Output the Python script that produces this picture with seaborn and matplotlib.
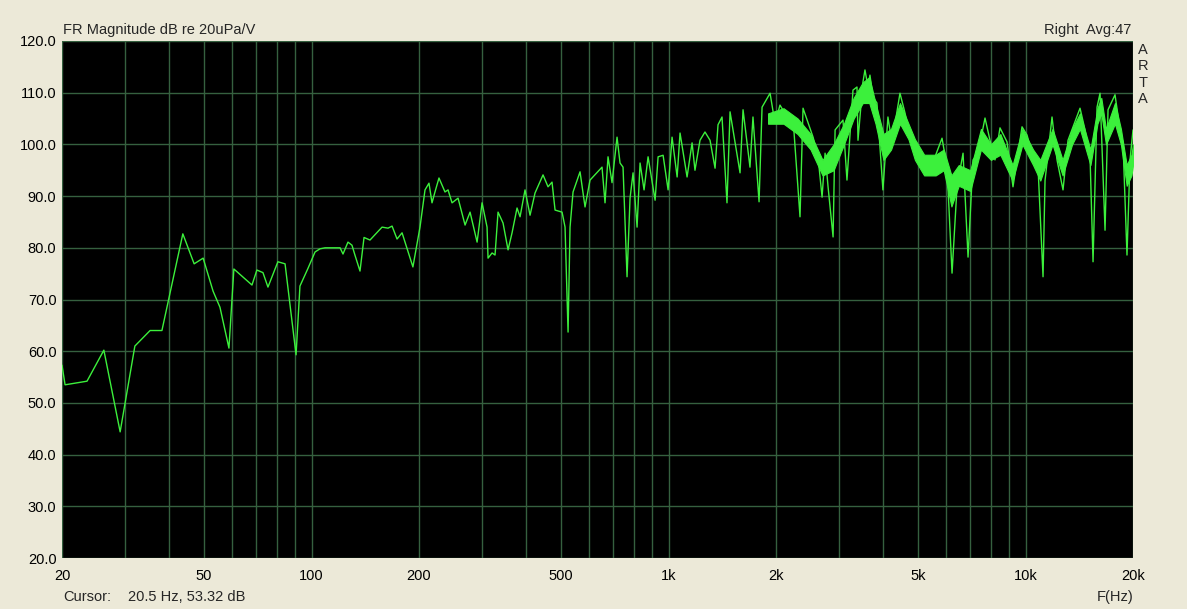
import numpy as np
import pandas as pd
import matplotlib
matplotlib.use("Agg")
import matplotlib.pyplot as plt
import seaborn as sns

# Frequency response (Hz, dB)
freq = [20.0, 20.4, 23.5, 26.2, 29.1, 32.0, 35.3, 38.1, 43.6, 46.9, 49.7, 53.0, 55.4,
        58.7, 60.6, 65.1, 68.1, 70.3, 73.1, 75.5, 80.5, 84.3, 90.5, 92.8, 97.7,
        102.3, 105.6, 109.1, 120.2, 122.5, 126.5, 129.8, 132.3, 136.7, 140.3, 145.8,
        157.6, 163.8, 168.1, 173.6, 179.3, 192.3, 201.3, 207.9, 213.3, 217.5, 221.7,
        227.5, 236.5, 241.2, 247.5, 257.3, 269.2, 278.0, 290.9, 300.4, 310.2, 312.2,
        320.4, 326.6, 333.0, 343.9, 355.2, 364.5, 376.4, 383.8, 396.3, 409.3, 422.7,
        445.1, 459.7, 471.7, 481.0, 503.2, 513.0, 523.1, 529.8, 540.2, 565.1, 583.6,
        602.7, 651.2, 663.9, 676.9, 694.6, 717.4, 731.4, 745.7, 765.2, 780.2, 795.5,
        816.3, 832.2, 854.0, 876.4, 917.0, 934.9, 965.5, 997.2, 1023, 1057, 1077,
        1127, 1164, 1186, 1225, 1265, 1307, 1350, 1376, 1412, 1458, 1487, 1586, 1617,
        1691, 1724, 1793, 1828, 1925, 1987, 2052, 2148, 2232, 2335, 2381, 2540, 2623,
        2692, 2745, 2798, 2890, 2928, 3081, 3161, 3286, 3372, 3394, 3505, 3550, 3620,
        3666, 3737, 3835, 3986, 4117, 4224, 4449, 4595, 4685, 4903, 5130, 5332, 5578,
        5836, 6027, 6225, 6429, 6683, 6902, 7128, 7361, 7700, 7952, 8212, 8481, 8873,
        9223, 9776, 10097, 10428, 10839, 11195, 11340, 11863, 12252, 12735, 13153,
        13584, 14212, 14678, 15160, 15456, 15860, 16170, 16700, 17025, 17810, 18393,
        18751, 19240, 19620, 20000]
level = [57.3, 53.5, 54.2, 60.2, 44.4, 61.0, 64.0, 64.0, 82.7, 76.9, 78.0, 71.6, 68.5,
         60.6, 75.9, 74.0, 72.8, 75.7, 75.2, 72.4, 77.3, 76.9, 59.3, 72.6, 76.0,
         79.2, 79.8, 80.0, 80.0, 78.8, 81.1, 80.5, 78.6, 75.5, 82.0, 81.5,
         84.0, 83.8, 84.2, 81.7, 82.9, 76.3, 84.0, 91.2, 92.5, 88.7, 90.8,
         93.5, 90.8, 91.2, 88.7, 89.6, 84.4, 86.9, 81.1, 88.7, 84.0, 78.0,
         79.0, 78.6, 86.9, 84.8, 79.6, 82.9, 87.7, 86.0, 91.2, 86.3, 90.6,
         94.1, 91.8, 92.7, 87.3, 86.9, 84.0, 63.7, 84.0, 90.8, 94.7, 87.9,
         93.1, 95.6, 88.7, 97.6, 92.6, 101.4, 96.4, 95.6, 74.4, 89.6, 94.5,
         84.0, 96.4, 91.2, 97.6, 89.2, 97.6, 97.9, 91.2, 101.4, 93.7, 102.2,
         93.7, 100.3, 95.0, 100.8, 102.4, 100.8, 95.4, 103.8, 105.3, 88.7, 106.3, 94.5, 106.7,
         95.6, 105.3, 88.9, 107.2, 109.9, 104.1, 107.6, 105.3, 105.1, 86.0, 107.0, 101.4, 97.6,
         89.8, 98.3, 91.8, 82.1, 102.8, 104.7, 93.1, 110.5, 111.1, 100.8, 112.1, 114.4, 111.1,
         113.4, 109.2, 108.0, 91.2, 105.3, 100.3, 109.9, 106.1, 103.4, 99.3, 95.6, 97.0, 97.6,
         101.2, 95.6, 75.1, 91.8, 98.3, 78.2, 97.0, 98.3, 105.1, 100.8, 97.0, 103.2, 100.5,
         91.8, 103.4, 101.8, 98.3, 95.6, 74.4, 93.0, 105.3, 97.0, 91.2, 100.8,
         103.4, 107.0, 102.8, 97.6, 77.3, 107.2, 109.9, 83.4, 106.7, 109.6, 102.8,
         100.3, 78.6, 97.0, 102.8]

# Dense (thick) part of the trace above ~1.9 kHz: lower / upper edge of the band
band_freq = [1900, 2100, 2300, 2500, 2700, 2900, 3100, 3300, 3500, 3650, 3800, 4000,
             4200, 4450, 4700, 4900, 5200, 5600, 5900, 6200, 6500, 7000, 7500, 8000,
             8500, 9200, 9800, 10500, 11000, 11900, 12700, 13500, 14200, 15200,
             15900, 16300, 16800, 17800, 18500, 19200, 19800, 20000]
band_lo = [104, 104, 102, 99, 94, 95, 100, 105, 108, 108, 104, 97,
           99, 104, 101, 97, 94, 94, 95, 88, 92, 91, 99, 97,
           98, 93, 100, 96, 93, 100, 94, 100, 103, 96,
           104, 106, 100, 104, 100, 92, 94, 96]
band_hi = [106, 107, 105, 102, 97, 100, 104, 109, 112, 113, 108, 102,
           103, 108, 104, 101, 98, 98, 99, 94, 96, 95, 103, 100,
           102, 96, 103, 99, 97, 103, 97, 103, 106, 99,
           107, 109, 103, 108, 103, 96, 98, 100]

label_freqs = [20, 50, 100, 200, 500, 1000, 2000, 5000, 10000, 20000]
label_texts = ["20", "50", "100", "200", "500", "1k", "2k", "5k", "10k", "20k"]
grid_freqs = [30, 40, 60, 70, 80, 90, 300, 400, 600, 700, 800, 900,
              3000, 4000, 6000, 7000, 8000, 9000]
y_ticks = [20, 30, 40, 50, 60, 70, 80, 90, 100, 110, 120]

bg = "#ECE9D8"
grid_col = "#35603F"
trace_col = "#3CF03C"

sns.set_style("dark", {"axes.facecolor": "black", "figure.facecolor": bg})
plt.rcParams["font.family"] = ["Liberation Sans", "DejaVu Sans"]

fig = plt.figure(figsize=(11.87, 6.09), dpi=100)
ax = fig.add_axes([62 / 1187, 51 / 609, 1071 / 1187, 517 / 609])

df = pd.DataFrame({"freq": freq, "level": level})
ax.fill_between(band_freq, band_lo, band_hi, color=trace_col, linewidth=0.8,
                edgecolor=trace_col, zorder=3)
sns.lineplot(data=df, x="freq", y="level", ax=ax, color=trace_col, linewidth=1.0,
             estimator=None, sort=False, zorder=4)

ax.set_xscale("log")
ax.set_xlim(20, 20000)
ax.set_ylim(20, 120)
ax.set_xticks(label_freqs)
ax.set_xticklabels(label_texts)
ax.set_xticks(grid_freqs, minor=True)
ax.set_xticklabels([], minor=True)
ax.set_yticks(y_ticks)
ax.set_yticklabels([f"{v:.1f}" for v in y_ticks])
ax.grid(True, which="both", color=grid_col, linewidth=1.0)
ax.tick_params(which="both", length=0, labelsize=10.5, colors="black")
ax.tick_params(axis="x", pad=8)
ax.tick_params(axis="y", pad=4)
ax.set_xlabel("")
ax.set_ylabel("")
for s in ax.spines.values():
    s.set_visible(False)

fig.text(63 / 1187, 1 - 30 / 609, "FR Magnitude dB re 20uPa/V", fontsize=10.5,
         ha="left", va="center")
fig.text(1131 / 1187, 1 - 30 / 609, "Right  Avg:47", fontsize=10.5,
         ha="right", va="center")
for i, ch in enumerate("ARTA"):
    fig.text(1143 / 1187, 1 - (50 + i * 16.3) / 609, ch, fontsize=10.5,
             ha="center", va="center")
fig.text(63 / 1187, 1 - 597 / 609, "Cursor:", fontsize=10.5, ha="left", va="center")
fig.text(128 / 1187, 1 - 597 / 609, "20.5 Hz, 53.32 dB", fontsize=10.5,
         ha="left", va="center")
fig.text(1133 / 1187, 1 - 597 / 609, "F(Hz)", fontsize=10.5, ha="right", va="center")

fig.savefig("out.png", dpi=100, facecolor=bg)
